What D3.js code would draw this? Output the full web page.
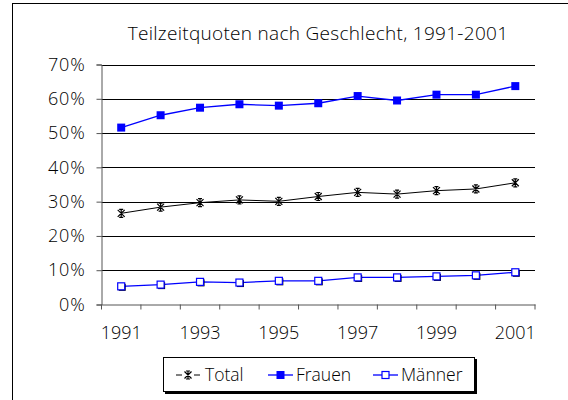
<!DOCTYPE html>
<html><head><meta charset="utf-8">
<script src="https://cdn.jsdelivr.net/npm/d3@7"></script>
<style>body{margin:0;background:#fff;}svg{display:block;} svg text{font-family:"Open Sans","Noto Sans",sans-serif !important; font-weight:350;}</style>
</head><body>
<svg id="c" width="568" height="400"></svg>
<script>
const years = ["1991","1992","1993","1994","1995","1996","1997","1998","1999","2000","2001"];
const total = [26.6,28.4,29.7,30.5,30.1,31.5,32.7,32.2,33.2,33.7,35.5];
const frauen = [51.6,55.2,57.4,58.4,58.0,58.7,60.8,59.5,61.2,61.2,63.7];
const maenner = [5.3,5.8,6.6,6.4,6.9,6.9,7.9,7.9,8.2,8.5,9.4];
const yTicks = [0,10,20,30,40,50,60,70];
const xLabels = ["1991","1993","1995","1997","1999","2001"];
const title = "Teilzeitquoten nach Geschlecht, 1991-2001";

const svg = d3.select("#c");
svg.append("rect").attr("x",12.5).attr("y",3.5).attr("width",570).attr("height",420)
  .attr("fill","#fff").attr("stroke","#000").attr("stroke-width",1);

svg.append("text").attr("x",318).attr("y",40).attr("text-anchor","middle")
  .style("font-size","19px").style("letter-spacing","0.3px").attr("fill","#000").text(title);

const L=101.5, R=535, T=64.5, B=304.5;
const x = d3.scaleBand().domain(years).range([L,R]);
const y = d3.scaleLinear().domain([0,70]).range([B,T]);

// gridlines
svg.append("g").selectAll("line").data(yTicks.filter(d=>d>0)).join("line")
  .attr("x1",L).attr("x2",R).attr("y1",d=>Math.round(y(d))+0.5).attr("y2",d=>Math.round(y(d))+0.5)
  .attr("stroke","#000").attr("stroke-width",1);

// y axis
const ya = svg.append("g").attr("transform",`translate(${L},0)`)
  .call(d3.axisLeft(y).tickValues(yTicks).tickFormat(d=>d+"%").tickSize(5).tickPadding(11));
ya.select(".domain").attr("stroke","#555");
ya.selectAll(".tick line").attr("stroke","#555");
ya.selectAll("text").style("font-size","18px").style("letter-spacing","0.8px").attr("fill","#000");

// x axis
const xa = svg.append("g").attr("transform",`translate(0,${B})`)
  .call(d3.axisBottom(x).tickValues([]).tickSizeOuter(0));
xa.select(".domain").attr("stroke","#555");
xa.selectAll(".bt").data(years.concat(["end"])).join("line")
  .attr("x1",(d,i)=>i<years.length?x(d):R).attr("x2",(d,i)=>i<years.length?x(d):R)
  .attr("y1",0).attr("y2",5).attr("stroke","#555");
xa.selectAll(".lbl").data(xLabels).join("text")
  .attr("x",d=>x(d)+x.bandwidth()/2).attr("y",34.5).attr("text-anchor","middle")
  .style("font-size","18px").attr("fill","#000").text(d=>d);

const cx = d=>x(d)+x.bandwidth()/2;
const line = d3.line().x((d,i)=>cx(years[i])).y(d=>y(d));

function starMarker(g, px, py){
  g.append("path").attr("d",`M${px-3.5},${py-3.5}L${px+3.5},${py+3.5}M${px-3.5},${py+3.5}L${px+3.5},${py-3.5}M${px},${py-4}L${px},${py+4}M${px-2},${py-4}L${px+2},${py-4}M${px-2},${py+4}L${px+2},${py+4}`)
   .attr("stroke","#000").attr("stroke-width",1.2).attr("fill","none");
}

// Total
svg.append("path").datum(total).attr("d",line).attr("fill","none").attr("stroke","#000").attr("stroke-width",1);
const gt = svg.append("g");
total.forEach((v,i)=>starMarker(gt,cx(years[i]),y(v)));

// Frauen
svg.append("path").datum(frauen).attr("d",line).attr("fill","none").attr("stroke","#0000ff").attr("stroke-width",1.3);
svg.append("g").selectAll("rect").data(frauen).join("rect")
  .attr("x",(d,i)=>cx(years[i])-4).attr("y",d=>y(d)-4).attr("width",8).attr("height",8).attr("fill","#0000ff");

// Männer
svg.append("path").datum(maenner).attr("d",line).attr("fill","none").attr("stroke","#0000ff").attr("stroke-width",1.3);
svg.append("g").selectAll("rect").data(maenner).join("rect")
  .attr("x",(d,i)=>cx(years[i])-2.5).attr("y",d=>y(d)-2.5).attr("width",7).attr("height",7).attr("fill","#000");
svg.append("g").selectAll("rect").data(maenner).join("rect")
  .attr("x",(d,i)=>cx(years[i])-3.5).attr("y",d=>y(d)-3.5).attr("width",7).attr("height",7)
  .attr("fill","#fff").attr("stroke","#0000ff").attr("stroke-width",1.2);

// legend
const lg = svg.append("g");
lg.append("rect").attr("x",165).attr("y",359).attr("width",312).attr("height",35).attr("fill","#000");
lg.append("rect").attr("x",163.5).attr("y",357.5).attr("width",311).attr("height",34).attr("fill","#fff").attr("stroke","#000");
const ly = 375;
const items = [
  {name:"Total", x0:176, tx:205, type:"star"},
  {name:"Frauen", x0:268, tx:296, type:"fill"},
  {name:"Männer", x0:373, tx:401, type:"open"}
];
items.forEach(it=>{
  if(it.type==="star"){
    lg.append("line").attr("x1",it.x0).attr("x2",it.x0+6).attr("y1",ly).attr("y2",ly).attr("stroke","#000");
    lg.append("line").attr("x1",it.x0+18).attr("x2",it.x0+24).attr("y1",ly).attr("y2",ly).attr("stroke","#000");
    starMarker(lg,it.x0+12,ly);
  } else {
    lg.append("line").attr("x1",it.x0).attr("x2",it.x0+25).attr("y1",ly).attr("y2",ly).attr("stroke","#0000ff").attr("stroke-width",1.3);
    if(it.type==="fill") lg.append("rect").attr("x",it.x0+8.5).attr("y",ly-4).attr("width",8).attr("height",8).attr("fill","#0000ff");
    else lg.append("rect").attr("x",it.x0+9).attr("y",ly-3.5).attr("width",7).attr("height",7).attr("fill","#fff").attr("stroke","#0000ff").attr("stroke-width",1.2);
  }
  lg.append("text").attr("x",it.tx).attr("y",ly+6).style("font-size","17.5px").attr("fill","#000").text(it.name);
});
</script>
</body></html>
